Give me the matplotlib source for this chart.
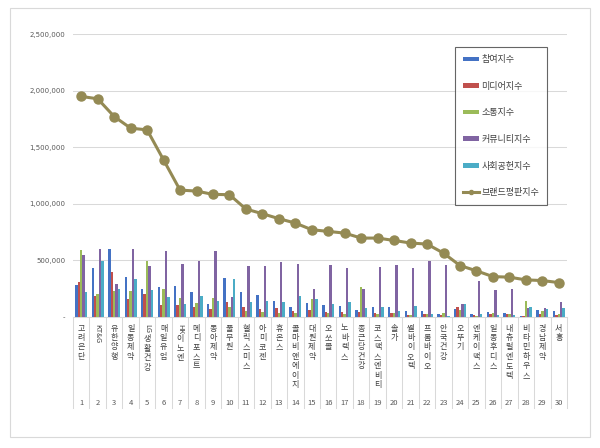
import matplotlib
matplotlib.use("Agg")
import matplotlib.pyplot as plt
from matplotlib.patches import Rectangle
import numpy as np

plt.rcParams['font.family'] = ['Noto Sans CJK KR', 'DejaVu Sans']

# 브랜드 순위 (1~30)
brands = ["고려은단", "KT&G", "유한양행", "일동제약", "LG생활건강", "매일유업", "HK이노엔",
          "메디포스트", "동아제약", "풀무원", "헬릭스미스", "아미코젠", "휴온스", "콜마비앤에이치",
          "대원제약", "오쏘몰", "노바렉스", "종근당건강", "코스맥스엔비티", "솔가", "쎌바이오텍",
          "프롬바이오", "안국건강", "오뚜기", "엔케이맥스", "일동후디스", "내츄럴엔도텍",
          "비타민하우스", "경남제약", "서흥"]
ranks = list(range(1, 31))

participation = [281000, 435000, 600000, 352000, 246000, 263000, 269000, 216000, 112000, 340000,
                 219000, 192000, 139000, 89000, 124000, 104000, 98000, 59000, 86000, 83000,
                 53000, 53000, 27000, 65000, 24000, 38000, 30000, 9000, 59000, 47000]
media = [311000, 180000, 400000, 157000, 201000, 104000, 104000, 89000, 71000, 133000,
         86000, 68000, 77000, 47000, 56000, 44000, 38000, 44000, 33000, 33000,
         15000, 24000, 18000, 89000, 12000, 24000, 21000, 6000, 27000, 12000]
communication = [592000, 201000, 231000, 225000, 497000, 249000, 166000, 124000, 169000, 83000,
                 53000, 38000, 36000, 30000, 157000, 33000, 27000, 260000, 27000, 33000,
                 12000, 24000, 33000, 62000, 9000, 30000, 21000, 136000, 53000, 21000]
community = [547000, 598000, 287000, 598000, 450000, 586000, 464000, 494000, 580000, 175000,
             450000, 450000, 488000, 464000, 249000, 459000, 432000, 243000, 441000, 459000,
             435000, 491000, 459000, 109000, 320000, 237000, 249000, 74000, 80000, 127000]
social = [216000, 497000, 249000, 337000, 237000, 175000, 109000, 180000, 136000, 337000,
          127000, 142000, 130000, 186000, 157000, 109000, 133000, 77000, 86000, 53000,
          92000, 24000, 9000, 109000, 24000, 12000, 12000, 86000, 65000, 77000]
reputation = [1950000, 1929000, 1772000, 1669000, 1654000, 1388000, 1121000, 1112000, 1083000, 1080000,
              953000, 912000, 868000, 829000, 770000, 755000, 740000, 696000, 696000, 675000,
              652000, 643000, 563000, 453000, 406000, 355000, 350000, 326000, 320000, 302000]

bar_series = [("참여지수", participation, "#4472C4"),
              ("미디어지수", media, "#C0504D"),
              ("소통지수", communication, "#9BBB59"),
              ("커뮤니티지수", community, "#8064A2"),
              ("사회공헌지수", social, "#4BACC6")]
line_label = "브랜드평판지수"
yticks = [0, 500000, 1000000, 1500000, 2000000, 2500000]
yticklabels = ["-", "500,000", "1,000,000", "1,500,000", "2,000,000", "2,500,000"]


def draw_vertical_label(ax, x, text, top_pt, size):
    # 한글은 세로로 쌓고, 영문은 시계방향으로 회전
    runs = []
    for ch in text:
        latin = ch.isascii()
        if runs and latin and runs[-1][0]:
            runs[-1][1] += ch
        else:
            runs.append([latin, ch])
    y = top_pt
    for latin, s in runs:
        if latin:
            ax.annotate(s, xy=(x, 0), xycoords=ax.get_xaxis_transform(),
                        xytext=(0, -y), textcoords="offset points",
                        ha="center", va="top", rotation=-90, fontsize=size - 0.5,
                        color="#404040", annotation_clip=False)
            y += len(s) * size * 0.58 + 1.0
        else:
            ax.annotate(s, xy=(x, 0), xycoords=ax.get_xaxis_transform(),
                        xytext=(0, -y), textcoords="offset points",
                        ha="center", va="top", fontsize=size,
                        color="#404040", annotation_clip=False)
            y += size * 1.17


fig = plt.figure(figsize=(6, 4.48), dpi=100)
fig.patches.append(Rectangle((10 / 600, 1 - 437 / 448), 580 / 600, 429 / 448,
                             transform=fig.transFigure, fill=False,
                             edgecolor="#D9D9D9", linewidth=0.8))
ax = fig.add_axes([73 / 600, 1 - 316.7 / 448, 494 / 600, 282.4 / 448])

x = np.arange(len(brands))
bw = 0.146
handles = []
for k, (name, vals, col) in enumerate(bar_series):
    h = ax.bar(x + (k - 2) * bw, vals, width=bw, color=col, label=name, zorder=2)
    handles.append(h)

ln, = ax.plot(x, reputation, color="#948A54", linewidth=2.2, marker="o", markersize=6.5,
              label=line_label, zorder=3)
handles.append(ln)

ax.set_xlim(-0.5, len(brands) - 0.5)
ax.set_ylim(0, 2500000)
ax.set_yticks(yticks)
ax.set_yticklabels(yticklabels, fontsize=5, color="#595959", family="DejaVu Sans")
ax.tick_params(axis="y", length=0, pad=5.5)
ax.set_xticks([])
ax.grid(axis="y", color="#D9D9D9", linewidth=0.75, zorder=0)
for s in ["top", "right", "left"]:
    ax.spines[s].set_visible(False)
ax.spines["bottom"].set_color("#D9D9D9")
ax.spines["bottom"].set_linewidth(0.75)

# 카테고리 구분선과 레이블
sep_bottom = -(408 - 316.7) / 282.4
for b in np.arange(-0.5, len(brands), 1.0):
    ax.plot([b, b], [0, sep_bottom], transform=ax.get_xaxis_transform(),
            color="#D9D9D9", linewidth=0.75, clip_on=False)
for i, (name, r) in enumerate(zip(brands, ranks)):
    draw_vertical_label(ax, i, name, 5.0, 5.8)
    ax.annotate(str(r), xy=(i, 0), xycoords=ax.get_xaxis_transform(),
                xytext=(0, -62), textcoords="offset points", ha="center", va="center",
                fontsize=5.5, color="#595959", annotation_clip=False)

leg = fig.legend(handles=handles, loc="upper left", bbox_to_anchor=(455 / 600, 1 - 47 / 448),
                 fontsize=6.5, frameon=True, fancybox=False, borderaxespad=0,
                 labelspacing=1.95, handlelength=1.8, handleheight=0.4,
                 handletextpad=0.2, borderpad=0.9, markerscale=0.45)
leg.get_frame().set_edgecolor("#404040")
leg.get_frame().set_linewidth(0.8)
for t in leg.get_texts():
    t.set_color("#404040")

fig.savefig("out.png", dpi=100)
